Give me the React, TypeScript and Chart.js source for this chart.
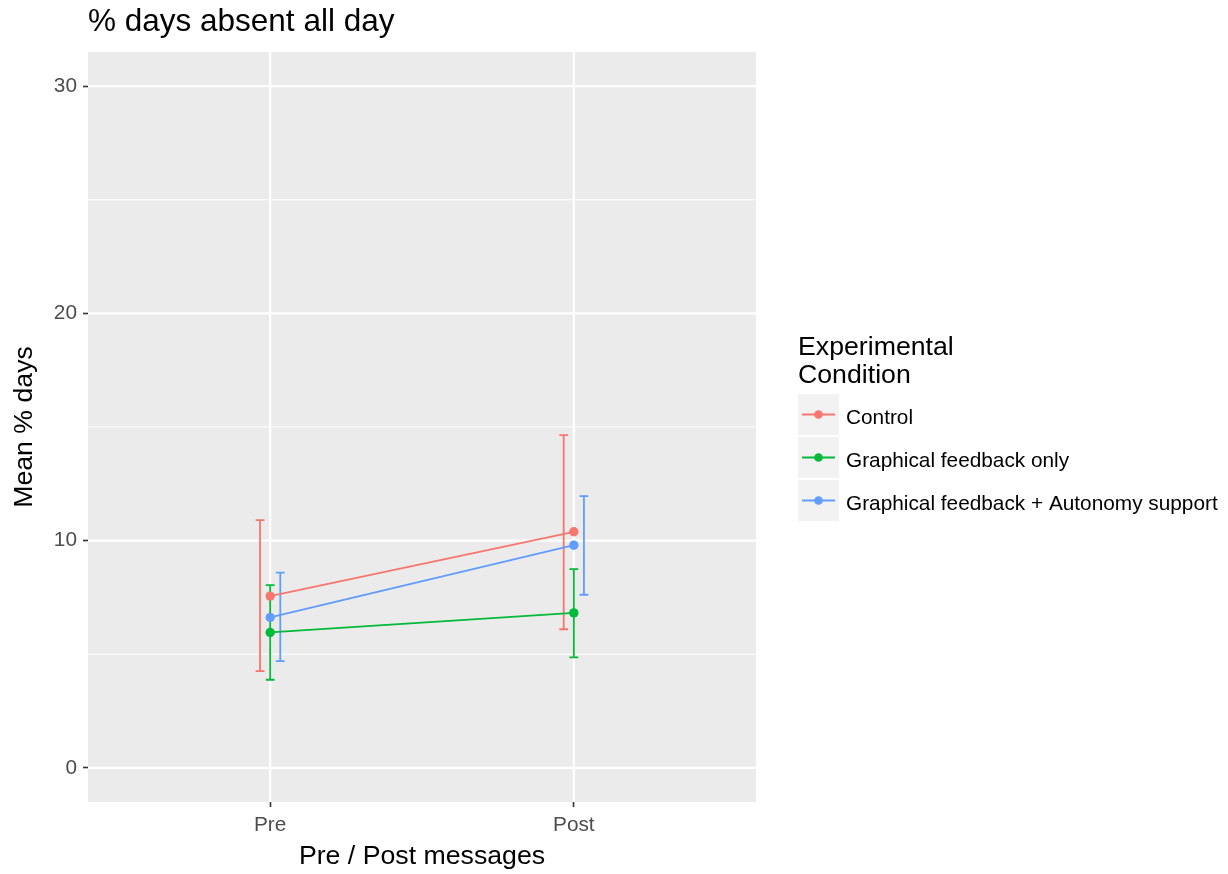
import { useEffect, useRef } from "react";
import { Chart, registerables } from "chart.js";

Chart.register(...registerables);

// ---- data ----
const categories = ["Pre", "Post"];
const seriesNames = ["Control", "Graphical feedback only", "Graphical feedback + Autonomy support"];
const controlMean = [7.56, 10.39];
const controlLower = [4.26, 6.1];
const controlUpper = [10.9, 14.64];
const graphicalMean = [5.96, 6.82];
const graphicalLower = [3.88, 4.86];
const graphicalUpper = [8.04, 8.75];
const autonomyMean = [6.62, 9.8];
const autonomyLower = [4.7, 7.62];
const autonomyUpper = [8.59, 11.96];
const yTicks = [0, 10, 20, 30];
const yMinorTicks = [5, 15, 25];

const TITLE = "% days absent all day";
const X_TITLE = "Pre / Post messages";
const Y_TITLE = "Mean % days";
const LEGEND_TITLE = ["Experimental", "Condition"];

// ---- style ----
const FONT = "'Liberation Sans', Arial, Helvetica, sans-serif";
const COLORS = ["#F8766D", "#00BA38", "#619CFF"];
const PANEL = "#EBEBEB";
const DODGE = 0.1 / 3;
const CAP_HALF = 0.0145;
const AXIS_TITLE_SIZE = 26.7;
const TEXT_SIZE = 20.8;

const series = [
  { name: seriesNames[0], mean: controlMean, lower: controlLower, upper: controlUpper },
  { name: seriesNames[1], mean: graphicalMean, lower: graphicalLower, upper: graphicalUpper },
  { name: seriesNames[2], mean: autonomyMean, lower: autonomyLower, upper: autonomyUpper },
];

const ggPlugin = {
  id: "ggstyle",
  beforeDraw(chart: any) {
    const { ctx, width, height, chartArea } = chart;
    ctx.save();
    ctx.fillStyle = "#FFFFFF";
    ctx.fillRect(0, 0, width, height);
    // title
    ctx.fillStyle = "#000000";
    ctx.textAlign = "left";
    ctx.textBaseline = "alphabetic";
    ctx.font = `31.5px ${FONT}`;
    ctx.fillText(TITLE, chartArea.left, 31);
    // legend
    const cy = (chartArea.top + chartArea.bottom) / 2;
    const lx = chartArea.right + 42;
    ctx.font = `${AXIS_TITLE_SIZE}px ${FONT}`;
    LEGEND_TITLE.forEach((t, i) => ctx.fillText(t, lx, cy - 72 + i * 28.3));
    const keySize = 41;
    series.forEach((s, i) => {
      const top = cy - 33 + i * 43;
      ctx.fillStyle = "#F2F2F2";
      ctx.fillRect(lx, top, keySize, keySize);
      const mid = top + keySize / 2;
      ctx.strokeStyle = COLORS[i];
      ctx.lineWidth = 1.8;
      ctx.beginPath();
      ctx.moveTo(lx + 4, mid);
      ctx.lineTo(lx + keySize - 4, mid);
      ctx.stroke();
      ctx.fillStyle = COLORS[i];
      ctx.beginPath();
      ctx.arc(lx + keySize / 2, mid, 4.3, 0, Math.PI * 2);
      ctx.fill();
      ctx.fillStyle = "#000000";
      ctx.font = `${TEXT_SIZE}px ${FONT}`;
      ctx.fillText(s.name, lx + keySize + 7, mid + 9);
    });
    ctx.restore();
  },
  beforeDatasetsDraw(chart: any) {
    const { ctx, chartArea, scales } = chart;
    const xs = scales.x;
    const ys = scales.y;
    ctx.save();
    ctx.fillStyle = PANEL;
    ctx.fillRect(chartArea.left, chartArea.top, chartArea.right - chartArea.left, chartArea.bottom - chartArea.top);
    ctx.strokeStyle = "#FFFFFF";
    ctx.lineWidth = 1.1;
    yMinorTicks.forEach((v) => {
      const y = ys.getPixelForValue(v);
      ctx.beginPath();
      ctx.moveTo(chartArea.left, y);
      ctx.lineTo(chartArea.right, y);
      ctx.stroke();
    });
    ctx.lineWidth = 2.2;
    yTicks.forEach((v) => {
      const y = ys.getPixelForValue(v);
      ctx.beginPath();
      ctx.moveTo(chartArea.left, y);
      ctx.lineTo(chartArea.right, y);
      ctx.stroke();
    });
    categories.forEach((_, j) => {
      const x = xs.getPixelForValue(j + 1);
      ctx.beginPath();
      ctx.moveTo(x, chartArea.top);
      ctx.lineTo(x, chartArea.bottom);
      ctx.stroke();
    });
    // error bars
    ctx.lineWidth = 1.8;
    series.forEach((s, i) => {
      ctx.strokeStyle = COLORS[i];
      categories.forEach((_, j) => {
        const xv = j + 1 + (i - 1) * DODGE;
        const x = xs.getPixelForValue(xv);
        const xl = xs.getPixelForValue(xv - CAP_HALF);
        const xr = xs.getPixelForValue(xv + CAP_HALF);
        const yl = ys.getPixelForValue(s.lower[j]);
        const yu = ys.getPixelForValue(s.upper[j]);
        ctx.beginPath();
        ctx.moveTo(x, yl);
        ctx.lineTo(x, yu);
        ctx.moveTo(xl, yl);
        ctx.lineTo(xr, yl);
        ctx.moveTo(xl, yu);
        ctx.lineTo(xr, yu);
        ctx.stroke();
      });
    });
    ctx.restore();
  },
};

export default function App() {
  const ref = useRef<HTMLCanvasElement | null>(null);
  useEffect(() => {
    if (!ref.current) return;
    const lineSets = series.map((s, i) => ({
      type: "line" as const,
      label: s.name,
      data: s.mean.map((v, j) => ({ x: j + 1, y: v })),
      borderColor: COLORS[i],
      backgroundColor: COLORS[i],
      borderWidth: 1.8,
      pointRadius: 0,
      pointHoverRadius: 0,
      fill: false,
      order: 12 - i,
    }));
    const pointSets = series.map((s, i) => ({
      type: "line" as const,
      label: s.name + " points",
      data: s.mean.map((v, j) => ({ x: j + 1, y: v })),
      borderColor: COLORS[i],
      backgroundColor: COLORS[i],
      showLine: false,
      pointRadius: 4.7,
      pointBorderWidth: 0,
      pointBackgroundColor: COLORS[i],
      pointHoverRadius: 4.7,
      order: 2 - i,
    }));
    const chart = new Chart(ref.current, {
      type: "line",
      data: { datasets: [...lineSets, ...pointSets] as any },
      options: {
        animation: false,
        responsive: false,
        events: [],
        layout: { padding: { top: 52, right: 472, bottom: 0, left: 0 } },
        plugins: {
          legend: { display: false },
          tooltip: { enabled: false },
          title: { display: false },
        },
        scales: {
          x: {
            type: "linear",
            min: 0.4,
            max: 2.6,
            afterBuildTicks: (a: any) => {
              a.ticks = categories.map((_, j) => ({ value: j + 1 }));
            },
            afterFit: (s: any) => {
              s.height = 72;
            },
            ticks: {
              callback: (v: any) => categories[Math.round(Number(v)) - 1] ?? "",
              font: { family: FONT, size: TEXT_SIZE },
              color: "#4D4D4D",
              padding: 6,
              autoSkip: false,
              maxRotation: 0,
            },
            grid: { drawOnChartArea: false, drawTicks: true, tickLength: 5, tickColor: "#333333", tickWidth: 1.6 },
            border: { display: false },
            title: {
              display: true,
              text: X_TITLE,
              font: { family: FONT, size: AXIS_TITLE_SIZE },
              color: "#000000",
              padding: { top: 0, bottom: 1 },
            },
          },
          y: {
            type: "linear",
            min: -1.5,
            max: 31.5,
            afterBuildTicks: (a: any) => {
              a.ticks = yTicks.map((v) => ({ value: v }));
            },
            afterFit: (s: any) => {
              s.width = 88;
            },
            ticks: {
              callback: (v: any) => String(v),
              font: { family: FONT, size: TEXT_SIZE },
              color: "#4D4D4D",
              padding: 6,
              autoSkip: false,
            },
            grid: { drawOnChartArea: false, drawTicks: true, tickLength: 5, tickColor: "#333333", tickWidth: 1.6 },
            border: { display: false },
            title: {
              display: true,
              text: Y_TITLE,
              font: { family: FONT, size: AXIS_TITLE_SIZE },
              color: "#000000",
              padding: { top: 9, bottom: 0 },
            },
          },
        },
      },
      plugins: [ggPlugin],
    });
    return () => chart.destroy();
  }, []);
  return (
    <div style={{ position: "absolute", left: 0, top: 0, width: 1228, height: 874, background: "#fff" }}>
      <canvas ref={ref} width={1228} height={874} style={{ display: "block", width: 1228, height: 874 }} />
    </div>
  );
}
